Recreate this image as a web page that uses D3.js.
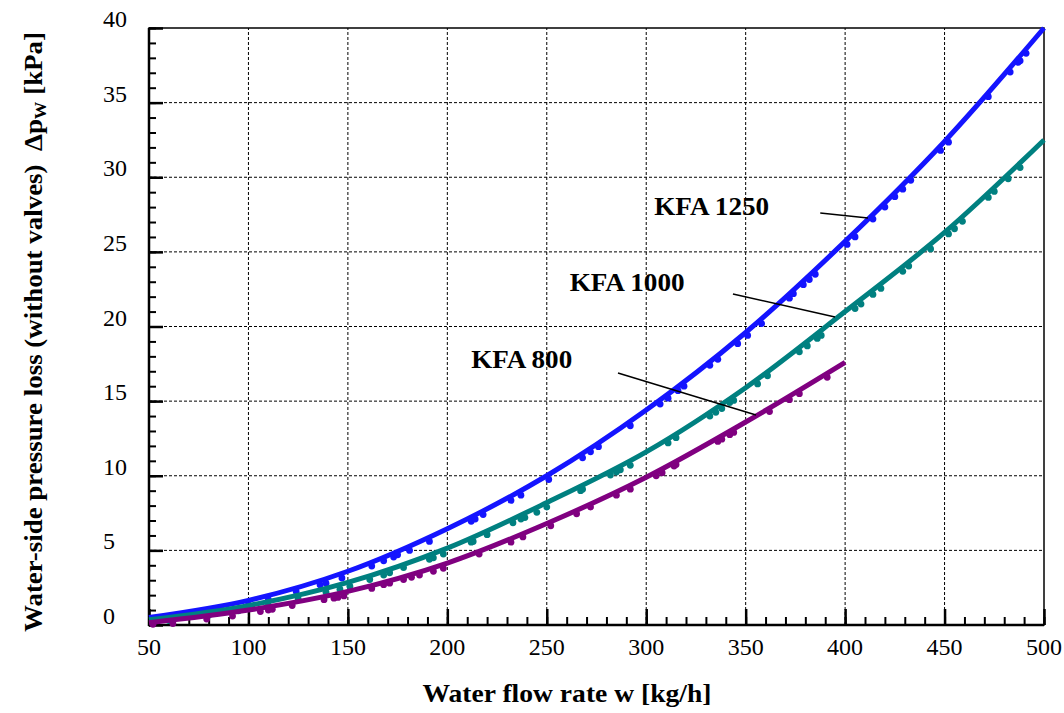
<!DOCTYPE html>
<html>
<head>
<meta charset="utf-8">
<script src="https://cdn.jsdelivr.net/npm/d3@7"></script>
<style>
  body { margin: 0; background: #fff; }
  svg { display: block; }
</style>
</head>
<body>
<svg width="1064" height="713"></svg>
<script>
// fitted curves, read at every 50 kg/h
const flowNodes = [50, 100, 150, 200, 250, 300, 350, 400, 450, 500];
const fit1250 = [0.5, 1.65, 3.6, 6.45, 10.0, 14.4, 19.6, 25.7, 32.4, 40.0];
const fit1000 = [0.35, 1.3, 2.85, 5.15, 8.2, 11.6, 15.9, 21.0, 26.3, 32.5];
const fit800 = [0.15, 1.0, 2.25, 4.15, 6.8, 9.9, 13.6, 17.6];

// measured points
const flow1250 = [55, 70, 85, 100, 110, 124, 136, 139, 147, 162, 168, 173, 175, 181, 191, 212, 214, 218, 232, 237, 251, 268, 272, 276, 292, 307, 311, 316, 319, 332, 336, 346, 351, 358, 372, 374, 379, 382, 385, 401, 405, 414, 420, 425, 429, 433, 448, 452, 472, 483, 487, 488, 491];
const dp1250 = [0.35, 0.65, 1.0, 1.35, 1.7, 2.25, 2.7, 2.8, 3.15, 3.95, 4.3, 4.55, 4.7, 5.0, 5.6, 6.95, 7.1, 7.4, 8.35, 8.7, 9.75, 11.2, 11.6, 11.95, 13.35, 14.8, 15.2, 15.7, 16.0, 17.4, 17.8, 18.85, 19.4, 20.2, 21.9, 22.2, 22.8, 23.15, 23.5, 25.5, 26.0, 27.2, 28.0, 28.7, 29.2, 29.8, 31.8, 32.35, 35.4, 37.05, 37.7, 37.8, 38.3];

const flow1000 = [60, 80, 95, 110, 125, 139, 146, 151, 161, 168, 171, 178, 191, 193, 198, 212, 213, 220, 233, 237, 239, 245, 250, 267, 268, 282, 285, 287, 292, 311, 315, 332, 335, 338, 342, 344, 356, 361, 377, 381, 386, 388, 405, 408, 414, 418, 429, 432, 443, 452, 455, 459, 472, 475, 482, 488];
const dp1000 = [0.3, 0.65, 0.95, 1.3, 1.75, 2.2, 2.4, 2.6, 3.05, 3.35, 3.5, 3.85, 4.4, 4.5, 4.75, 5.55, 5.6, 6.05, 6.85, 7.1, 7.2, 7.55, 7.9, 9.0, 9.1, 10.05, 10.25, 10.4, 10.7, 12.2, 12.55, 14.0, 14.25, 14.5, 14.9, 15.05, 16.15, 16.7, 18.3, 18.7, 19.2, 19.4, 21.2, 21.5, 22.15, 22.55, 23.7, 24.05, 25.2, 26.2, 26.55, 27.05, 28.65, 29.05, 29.9, 30.65];

const flow800 = [52, 62, 79, 92, 106, 110, 112, 122, 138, 143, 145, 148, 162, 168, 171, 178, 182, 186, 193, 198, 216, 232, 238, 252, 265, 272, 285, 292, 305, 308, 314, 315, 336, 338, 342, 344, 362, 372, 377, 391];
const dp800 = [0.05, 0.1, 0.4, 0.6, 0.9, 1.0, 1.05, 1.3, 1.7, 1.8, 1.85, 1.95, 2.45, 2.7, 2.8, 3.05, 3.2, 3.35, 3.6, 3.8, 4.75, 5.55, 5.9, 6.65, 7.45, 7.9, 8.7, 9.1, 10.0, 10.2, 10.65, 10.75, 12.3, 12.45, 12.75, 12.9, 14.3, 15.1, 15.5, 16.6];

const xTicks = [50, 100, 150, 200, 250, 300, 350, 400, 450, 500];
const yTicks = [0, 5, 10, 15, 20, 25, 30, 35, 40];

const seriesNames = ["KFA 1250", "KFA 1000", "KFA 800"];
const seriesColors = ["#1414ff", "#008080", "#800080"];

// label anchors and leader lines (in data units)
const labelPos = [[304, 27.45], [261.5, 22.4], [212, 17.2]];
const labelWidth = [115, 115, 101];
const leaders = [
  [[387.5, 27.6], [411.5, 27.27]],
  [[343.6, 22.18], [394.9, 20.64]],
  [[285.8, 16.88], [355.2, 14.07]]
];

const svg = d3.select("svg");
const x = d3.scaleLinear([50, 500], [149, 1044]);
const y = d3.scaleLinear([0, 40], [625, 28]);

// grid
const grid = svg.append("g")
  .attr("stroke", "#000")
  .attr("stroke-width", 1)
  .attr("stroke-dasharray", "3,2");
grid.selectAll(".gx").data(xTicks.slice(1, -1)).join("line")
  .attr("x1", d => x(d)).attr("x2", d => x(d))
  .attr("y1", y(0)).attr("y2", y(40));
grid.selectAll(".gy").data(yTicks.slice(1, -1)).join("line")
  .attr("x1", x(50)).attr("x2", x(500))
  .attr("y1", d => y(d)).attr("y2", d => y(d));

// frame
svg.append("rect")
  .attr("x", x(50)).attr("y", y(40))
  .attr("width", x(500) - x(50)).attr("height", y(0) - y(40))
  .attr("fill", "none").attr("stroke", "#000").attr("stroke-width", 1.5);

// ticks
function tickStyle(g, w) {
  g.select(".domain").remove();
  g.selectAll("line").attr("stroke", "#000").attr("stroke-width", w);
}
svg.append("g").attr("transform", `translate(0,${y(0)})`)
  .call(d3.axisBottom(x).tickValues(d3.range(50, 501, 10)).tickSize(-8).tickFormat(""))
  .call(g => tickStyle(g, 2));
svg.append("g").attr("transform", `translate(0,${y(0)})`)
  .call(d3.axisBottom(x).tickValues(xTicks).tickSize(-16).tickFormat(""))
  .call(g => tickStyle(g, 2.5));
svg.append("g").attr("transform", `translate(${x(50)},0)`)
  .call(d3.axisLeft(y).tickValues(d3.range(0, 41, 1)).tickSize(-7).tickFormat(""))
  .call(g => tickStyle(g, 2));
svg.append("g").attr("transform", `translate(${x(50)},0)`)
  .call(d3.axisLeft(y).tickValues(yTicks).tickSize(-14).tickFormat(""))
  .call(g => tickStyle(g, 2.5));

// thick left and bottom axis lines
svg.append("line").attr("x1", x(50)).attr("x2", x(50)).attr("y1", y(40)).attr("y2", y(0) + 1)
  .attr("stroke", "#000").attr("stroke-width", 2.5);
svg.append("line").attr("x1", x(50) - 1).attr("x2", x(500)).attr("y1", y(0)).attr("y2", y(0))
  .attr("stroke", "#000").attr("stroke-width", 2.5);

// tick labels
const serif = "'Liberation Serif', 'Times New Roman', serif";
svg.append("g").selectAll("text").data(xTicks).join("text")
  .attr("x", d => x(d)).attr("y", 655)
  .attr("text-anchor", "middle")
  .attr("font-family", serif).attr("font-size", 24)
  .text(d => d);
svg.append("g").selectAll("text").data(yTicks).join("text")
  .attr("x", 103).attr("y", d => y(d) - 1)
  .attr("font-family", serif).attr("font-size", 24)
  .text(d => d);

// fitted lines
const line = d3.line().x(d => x(d[0])).y(d => y(d[1])).curve(d3.curveCatmullRom);
const fits = [fit1250, fit1000, fit800];
const points = [[flow1250, dp1250], [flow1000, dp1000], [flow800, dp800]];

fits.forEach((vals, i) => {
  const data = vals.map((v, j) => [flowNodes[j], v]);
  svg.append("path").datum(data)
    .attr("d", line)
    .attr("fill", "none")
    .attr("stroke", seriesColors[i])
    .attr("stroke-width", 5);
  const pts = points[i][0].map((w, j) => [w, points[i][1][j]]);
  svg.append("g").selectAll("circle").data(pts).join("circle")
    .attr("cx", d => x(d[0])).attr("cy", d => y(d[1]))
    .attr("r", 3.4)
    .attr("fill", seriesColors[i]);
});

// series labels + leaders
svg.append("g").selectAll("text").data(seriesNames).join("text")
  .attr("x", (d, i) => x(labelPos[i][0])).attr("y", (d, i) => y(labelPos[i][1]))
  .attr("font-family", serif).attr("font-size", 26).attr("font-weight", "bold")
  .attr("textLength", (d, i) => labelWidth[i]).attr("lengthAdjust", "spacingAndGlyphs")
  .text(d => d);
svg.append("g").selectAll("line").data(leaders).join("line")
  .attr("x1", d => x(d[0][0])).attr("y1", d => y(d[0][1]))
  .attr("x2", d => x(d[1][0])).attr("y2", d => y(d[1][1]))
  .attr("stroke", "#000").attr("stroke-width", 1.5);

// axis titles
svg.append("text")
  .attr("x", 567).attr("y", 702)
  .attr("text-anchor", "middle")
  .attr("font-family", serif).attr("font-size", 26).attr("font-weight", "bold")
  .attr("textLength", 289).attr("lengthAdjust", "spacingAndGlyphs")
  .text("Water flow rate w [kg/h]");

const yt = svg.append("text")
  .attr("transform", "translate(42,332) rotate(-90)")
  .attr("text-anchor", "middle")
  .attr("font-family", serif).attr("font-size", 26).attr("font-weight", "bold")
  .attr("textLength", 600).attr("lengthAdjust", "spacingAndGlyphs");
yt.append("tspan").text("Water-side pressure loss (without valves)\u00a0 \u0394p");
yt.append("tspan").attr("font-size", 17).attr("dy", 4).text("W");
yt.append("tspan").attr("dy", -4).text(" [kPa]");
</script>
</body>
</html>
